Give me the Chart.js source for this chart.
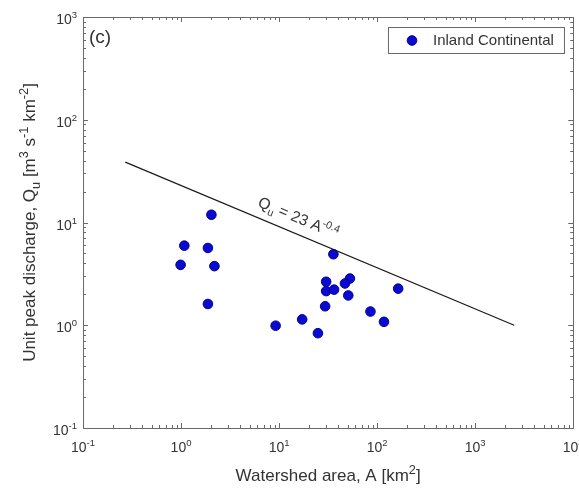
<!DOCTYPE html>
<html>
<head>
<meta charset="utf-8">
<script src="https://cdn.jsdelivr.net/npm/chart.js@4/dist/chart.umd.min.js"></script>
<style>
  html, body { margin: 0; padding: 0; background: #fff; }
  #wrap { width: 579px; height: 488px; }
</style>
</head>
<body>
<div id="wrap"><canvas id="chart" width="579" height="488"></canvas></div>
<script>
// ─── Data ─────────────────────────────────────────────────────────────────────
const areaKm2 = [2.04, 1.08, 1.88, 0.99, 2.19, 1.88, 35.8, 30.2, 52.8, 47.0,
                 30.2, 36.4, 50.8, 164, 29.5, 85.5, 17.2, 9.22, 117.5, 24.9];
const unitPeakQ = [11.9, 5.95, 5.65, 3.87, 3.76, 1.61, 4.91, 2.65, 2.85, 2.55,
                   2.15, 2.22, 1.95, 2.27, 1.53, 1.36, 1.14, 0.99, 1.08, 0.837];
const envelopeA = [0.27, 2500];
const envelopeQ = [38.7, 1.0];
const xDecades = [-1, 0, 1, 2, 3, 4];
const yDecades = [-1, 0, 1, 2, 3];
const seriesLabel = 'Inland Continental';

const FONT = '"Liberation Sans", Arial, sans-serif';
const AXIS = '#6a6a6a';
const TEXT = '#333';

// ─── Helpers ──────────────────────────────────────────────────────────────────
function richWidth(ctx, parts, size, ratio = 0.68) {
  let w = 0;
  parts.forEach(p => {
    ctx.font = (p.s ? size * ratio : size) + 'px ' + FONT;
    w += ctx.measureText(p.t).width;
  });
  return w;
}

function drawRich(ctx, parts, x, y, size, ratio = 0.68) {
  let cx = x;
  ctx.textBaseline = 'alphabetic';
  ctx.textAlign = 'left';
  parts.forEach(p => {
    const fs = p.s ? size * ratio : size;
    ctx.font = fs + 'px ' + FONT;
    let dy = 0;
    if (p.s === 'sup') dy = -size * 0.42;
    if (p.s === 'sub') dy = size * 0.28;
    ctx.fillText(p.t, cx, y + dy);
    cx += ctx.measureText(p.t).width;
  });
}

function powParts(e) { return [{ t: '10' }, { t: String(e), s: 'sup' }]; }

// ─── Custom frame, ticks, labels, legend ──────────────────────────────────────
const matlabFrame = {
  id: 'matlabFrame',
  afterDraw(chart) {
    const { ctx, chartArea: a, scales: { x, y } } = chart;
    ctx.save();

    // box
    ctx.strokeStyle = AXIS;
    ctx.lineWidth = 1;
    ctx.strokeRect(Math.round(a.left) + 0.5, Math.round(a.top) + 0.5,
                   Math.round(a.right - a.left), Math.round(a.bottom - a.top));

    // inward ticks
    ctx.beginPath();
    xDecades.forEach((d, i) => {
      for (let k = 1; k <= 9; k++) {
        if (k > 1 && i === xDecades.length - 1) break;
        const px = Math.round(x.getPixelForValue(k * Math.pow(10, d))) + 0.5;
        const len = k === 1 ? 5 : 3;
        ctx.moveTo(px, a.bottom); ctx.lineTo(px, a.bottom - len);
        ctx.moveTo(px, a.top); ctx.lineTo(px, a.top + len);
      }
    });
    yDecades.forEach((d, i) => {
      for (let k = 1; k <= 9; k++) {
        if (k > 1 && i === yDecades.length - 1) break;
        const py = Math.round(y.getPixelForValue(k * Math.pow(10, d))) + 0.5;
        const len = k === 1 ? 5 : 3;
        ctx.moveTo(a.left, py); ctx.lineTo(a.left + len, py);
        ctx.moveTo(a.right, py); ctx.lineTo(a.right - len, py);
      }
    });
    ctx.stroke();

    // tick labels
    ctx.fillStyle = TEXT;
    xDecades.forEach(d => {
      const parts = powParts(d);
      const w = richWidth(ctx, parts, 14);
      const px = x.getPixelForValue(Math.pow(10, d));
      drawRich(ctx, parts, px - w / 2, a.bottom + 24, 14);
    });
    yDecades.forEach(d => {
      const parts = powParts(d);
      const w = richWidth(ctx, parts, 14);
      const py = y.getPixelForValue(Math.pow(10, d));
      drawRich(ctx, parts, a.left - 6 - w, py + 7, 14);
    });

    // axis titles, centred on the plot box like MATLAB does
    const xt = [{ t: 'Watershed area, A [km' }, { t: '2', s: 'sup' }, { t: ']' }];
    const xw = richWidth(ctx, xt, 17, 0.75);
    drawRich(ctx, xt, (a.left + a.right) / 2 - xw / 2, 481, 17, 0.75);

    const yt = [{ t: 'Unit peak discharge, Q' }, { t: 'u', s: 'sub' }, { t: ' [m' },
                { t: '3', s: 'sup' }, { t: ' s' }, { t: '-1', s: 'sup' }, { t: ' km' },
                { t: '-2', s: 'sup' }, { t: ']' }];
    const yw = richWidth(ctx, yt, 17, 0.75);
    ctx.save();
    ctx.translate(35, (a.top + a.bottom) / 2);
    ctx.rotate(-Math.PI / 2);
    drawRich(ctx, yt, -yw / 2, 0, 17, 0.75);
    ctx.restore();

    // panel tag
    ctx.font = '19px ' + FONT;
    ctx.textAlign = 'left';
    ctx.textBaseline = 'middle';
    ctx.fillText('(c)', a.left + 6, a.top + 21);

    // equation along the envelope line
    const p0 = { x: x.getPixelForValue(envelopeA[0]), y: y.getPixelForValue(envelopeQ[0]) };
    const p1 = { x: x.getPixelForValue(envelopeA[1]), y: y.getPixelForValue(envelopeQ[1]) };
    const ang = Math.atan2(p1.y - p0.y, p1.x - p0.x);
    const eq = [{ t: 'Q' }, { t: 'u', s: 'sub' }, { t: ' = 23 A' }, { t: '-0.4', s: 'sup' }];
    const ew = richWidth(ctx, eq, 15.5);
    ctx.save();
    ctx.translate(x.getPixelForValue(17.5), y.getPixelForValue(12.6));
    ctx.rotate(ang);
    drawRich(ctx, eq, -ew / 2 - 2, 12, 15.5);
    ctx.restore();

    // legend
    const ds = chart.data.datasets[1];
    const lx = 388, ly = 27, lw = 176, lh = 26;
    ctx.fillStyle = '#fff';
    ctx.fillRect(lx, ly, lw, lh);
    ctx.strokeStyle = AXIS;
    ctx.strokeRect(lx + 0.5, ly + 0.5, lw, lh);
    ctx.beginPath();
    ctx.arc(lx + 24, ly + 13.5, 4.8, 0, Math.PI * 2);
    ctx.fillStyle = ds.backgroundColor;
    ctx.fill();
    ctx.strokeStyle = ds.borderColor;
    ctx.lineWidth = 1;
    ctx.stroke();
    ctx.fillStyle = TEXT;
    ctx.font = '15px ' + FONT;
    ctx.textBaseline = 'middle';
    ctx.fillText(ds.label, lx + 45, ly + 14);

    ctx.restore();
  }
};

// collapse the hidden axes so the padding alone sets the plot box
const noSize = scale => { if (scale.isHorizontal()) scale.height = 0; else scale.width = 0; };

// ─── Chart ────────────────────────────────────────────────────────────────────
new Chart(document.getElementById('chart'), {
  type: 'scatter',
  data: {
    datasets: [
      {
        type: 'line',
        label: 'envelope',
        data: envelopeA.map((a, i) => ({ x: a, y: envelopeQ[i] })),
        borderColor: '#1a1a1a',
        borderWidth: 1.2,
        pointRadius: 0,
        fill: false
      },
      {
        label: seriesLabel,
        data: areaKm2.map((a, i) => ({ x: a, y: unitPeakQ[i] })),
        backgroundColor: '#0a0ad2',
        borderColor: '#00008a',
        borderWidth: 1,
        pointRadius: 4.8,
        pointHoverRadius: 4.8
      }
    ]
  },
  options: {
    responsive: false,
    animation: false,
    events: [],
    layout: { padding: { left: 83, right: 2, top: 17, bottom: 60 } },
    plugins: { legend: { display: false }, tooltip: { enabled: false } },
    scales: {
      x: {
        type: 'logarithmic', min: 0.1, max: 10000, afterFit: noSize,
        ticks: { display: false }, grid: { display: false }, border: { display: false }
      },
      y: {
        type: 'logarithmic', min: 0.1, max: 1000, afterFit: noSize,
        ticks: { display: false }, grid: { display: false }, border: { display: false }
      }
    }
  },
  plugins: [matlabFrame]
});
</script>
</body>
</html>
